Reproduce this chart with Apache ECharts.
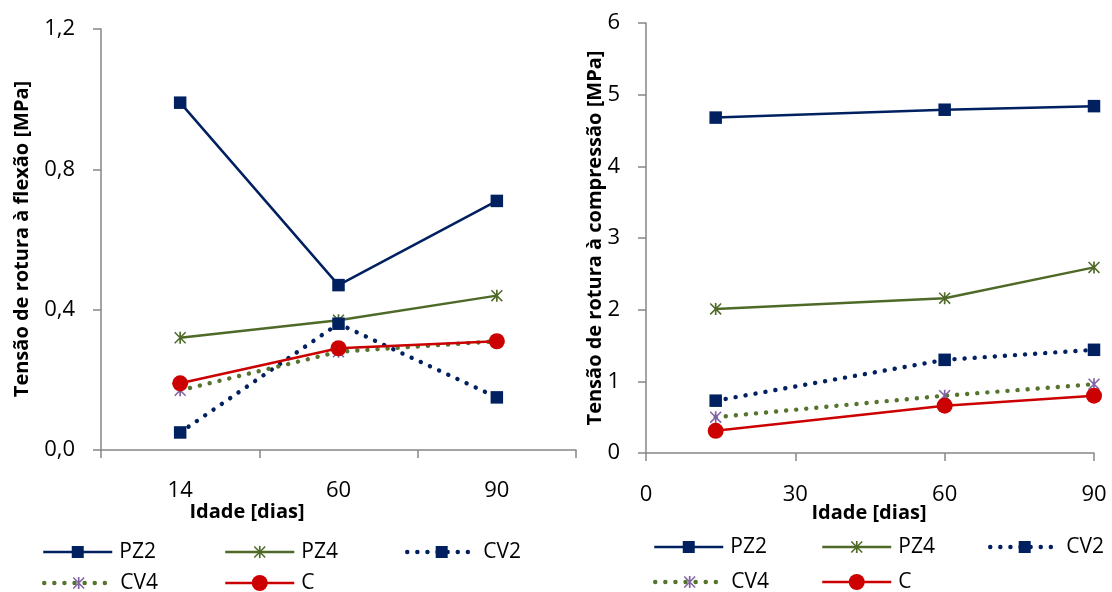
<!DOCTYPE html>
<html>
<head>
<meta charset="utf-8">
<script src="https://cdn.jsdelivr.net/npm/echarts@6/dist/echarts.min.js"></script>
<style>
  html, body { margin: 0; padding: 0; background: #fff; }
  #chart { width: 1112px; height: 592px; }
</style>
</head>
<body>
<div id="chart"></div>
<script>
// Flexural strength (left panel), ages as categories
const flexAges = ['14', '60', '90'];
const flexPZ2 = [0.99, 0.47, 0.71];
const flexPZ4 = [0.32, 0.37, 0.44];
const flexCV2 = [0.05, 0.36, 0.15];
const flexCV4 = [0.17, 0.28, 0.31];
const flexC   = [0.19, 0.29, 0.31];

// Compressive strength (right panel), ages on a value axis
const compAges = [14, 60, 90];
const compPZ2 = [4.68, 4.79, 4.84];
const compPZ4 = [2.01, 2.16, 2.59];
const compCV2 = [0.73, 1.30, 1.44];
const compCV4 = [0.50, 0.80, 0.96];
const compC   = [0.31, 0.66, 0.80];

const seriesNames = ['PZ2', 'PZ4', 'CV2', 'CV4', 'C'];

const FONT = '"Open Sans", "DejaVu Sans", sans-serif';
const AXIS_GREY = '#868686';

// asterisk marker: vertical bar plus two diagonals
const STAR = 'path://M4.3 0H5.7V10H4.3Z M0.9 0L10 9.1L9.1 10L0 0.9Z M9.1 0L10 0.9L0.9 10L0 9.1Z';

const DOTS = { width: 4.4, type: [0.1, 10], cap: 'round' };
const SOLID = { width: 2.5, type: 'solid', cap: 'butt' };

const styles = {
  PZ2: { color: '#002060', line: SOLID, symbol: 'rect', size: 12.5, mark: '#002060' },
  PZ4: { color: '#4F6A28', line: SOLID, symbol: STAR, size: 12, mark: '#4F6A28' },
  CV2: { color: '#002060', line: DOTS, symbol: 'rect', size: 12.5, mark: '#002060' },
  CV4: { color: '#55742E', line: DOTS, symbol: STAR, size: 12, mark: '#8064A2' },
  C:   { color: '#CC0000', line: SOLID, symbol: 'circle', size: 16, mark: '#CC0000' }
};

function makeSeries(name, data, idx) {
  const s = styles[name];
  return {
    name: name,
    type: 'line',
    xAxisIndex: idx,
    yAxisIndex: idx,
    data: data,
    symbol: s.symbol,
    symbolSize: s.size,
    showAllSymbol: true,
    animation: false,
    lineStyle: Object.assign({ color: s.color }, s.line),
    itemStyle: { color: s.mark, borderWidth: 0 },
    emphasis: { disabled: true }
  };
}

const flexData = { PZ2: flexPZ2, PZ4: flexPZ4, CV2: flexCV2, CV4: flexCV4, C: flexC };
const compData = { PZ2: compPZ2, PZ4: compPZ4, CV2: compCV2, CV4: compCV4, C: compC };

const series = [];
seriesNames.forEach(n => series.push(makeSeries(n, flexData[n], 0)));
seriesNames.forEach(n => series.push(makeSeries(n, compData[n].map((v, i) => [compAges[i], v]), 1)));

// one legend entry per box so every marker keeps its own size and line weight
function legendItem(name, left, centerY) {
  const s = styles[name];
  const ih = name === 'C' ? 20 : 15;
  return {
    data: [name],
    left: left,
    top: centerY - 12,
    orient: 'horizontal',
    padding: 0,
    itemWidth: 69,
    itemHeight: ih,
    selectedMode: false,
    lineStyle: { color: s.color, width: s.line.width, type: s.line.type, cap: s.line.cap },
    itemStyle: { color: s.mark, borderWidth: 0 },
    textStyle: { fontFamily: FONT, fontSize: 21, color: '#000', lineHeight: 24, padding: [0, 0, 0, 2] }
  };
}

const legends = [
  legendItem('PZ2', 42, 552), legendItem('PZ4', 224, 552), legendItem('CV2', 405, 552),
  legendItem('CV4', 42, 583), legendItem('C', 224, 583),
  legendItem('PZ2', 653, 547), legendItem('PZ4', 821, 547), legendItem('CV2', 988, 547),
  legendItem('CV4', 653, 582), legendItem('C', 821, 582)
];

const axisLine = { show: true, lineStyle: { color: AXIS_GREY, width: 1.5 } };
const axisTick = { show: true, inside: false, length: 8, lineStyle: { color: AXIS_GREY, width: 1.5 } };
const tickFont = { fontFamily: FONT, fontSize: 22, color: '#000' };

const option = {
  backgroundColor: '#fff',
  animation: false,
  grid: [
    { left: 101, right: 536, top: 29, bottom: 142, containLabel: false },
    { left: 646, right: 18, top: 23, bottom: 139, containLabel: false }
  ],
  xAxis: [
    {
      gridIndex: 0, type: 'category', data: flexAges, boundaryGap: true,
      axisLine: axisLine, axisTick: axisTick, splitLine: { show: false },
      axisLabel: Object.assign({ margin: 30 }, tickFont)
    },
    {
      gridIndex: 1, type: 'value', min: 0, max: 90, interval: 30,
      axisLine: axisLine, axisTick: axisTick, splitLine: { show: false },
      axisLabel: Object.assign({ margin: 31 }, tickFont)
    }
  ],
  yAxis: [
    {
      gridIndex: 0, type: 'value', min: 0, max: 1.2, interval: 0.4,
      axisLine: axisLine, axisTick: axisTick, splitLine: { show: false },
      axisLabel: Object.assign({ margin: 26, formatter: v => v.toFixed(1).replace('.', ',') }, tickFont)
    },
    {
      gridIndex: 1, type: 'value', min: 0, max: 6, interval: 1,
      axisLine: axisLine, axisTick: axisTick, splitLine: { show: false },
      axisLabel: Object.assign({ margin: 26 }, tickFont)
    }
  ],
  legend: legends,
  graphic: [
    { type: 'text', x: 247, y: 512, style: { text: 'Idade [dias]', font: 'bold 20px ' + FONT, fill: '#000', textAlign: 'center', textVerticalAlign: 'middle' } },
    { type: 'text', x: 869, y: 513, style: { text: 'Idade [dias]', font: 'bold 20px ' + FONT, fill: '#000', textAlign: 'center', textVerticalAlign: 'middle' } },
    { type: 'text', x: 22, y: 239, rotation: Math.PI / 2, style: { text: 'Tensão de rotura à flexão [MPa]', font: 'bold 20px ' + FONT, fill: '#000', textAlign: 'center', textVerticalAlign: 'middle' } },
    { type: 'text', x: 595, y: 238, rotation: Math.PI / 2, style: { text: 'Tensão de rotura à compressão [MPa]', font: 'bold 20px ' + FONT, fill: '#000', textAlign: 'center', textVerticalAlign: 'middle' } }
  ],
  series: series
};

const chart = echarts.init(document.getElementById('chart'), null, { renderer: 'canvas' });
chart.setOption(option);
</script>
</body>
</html>
